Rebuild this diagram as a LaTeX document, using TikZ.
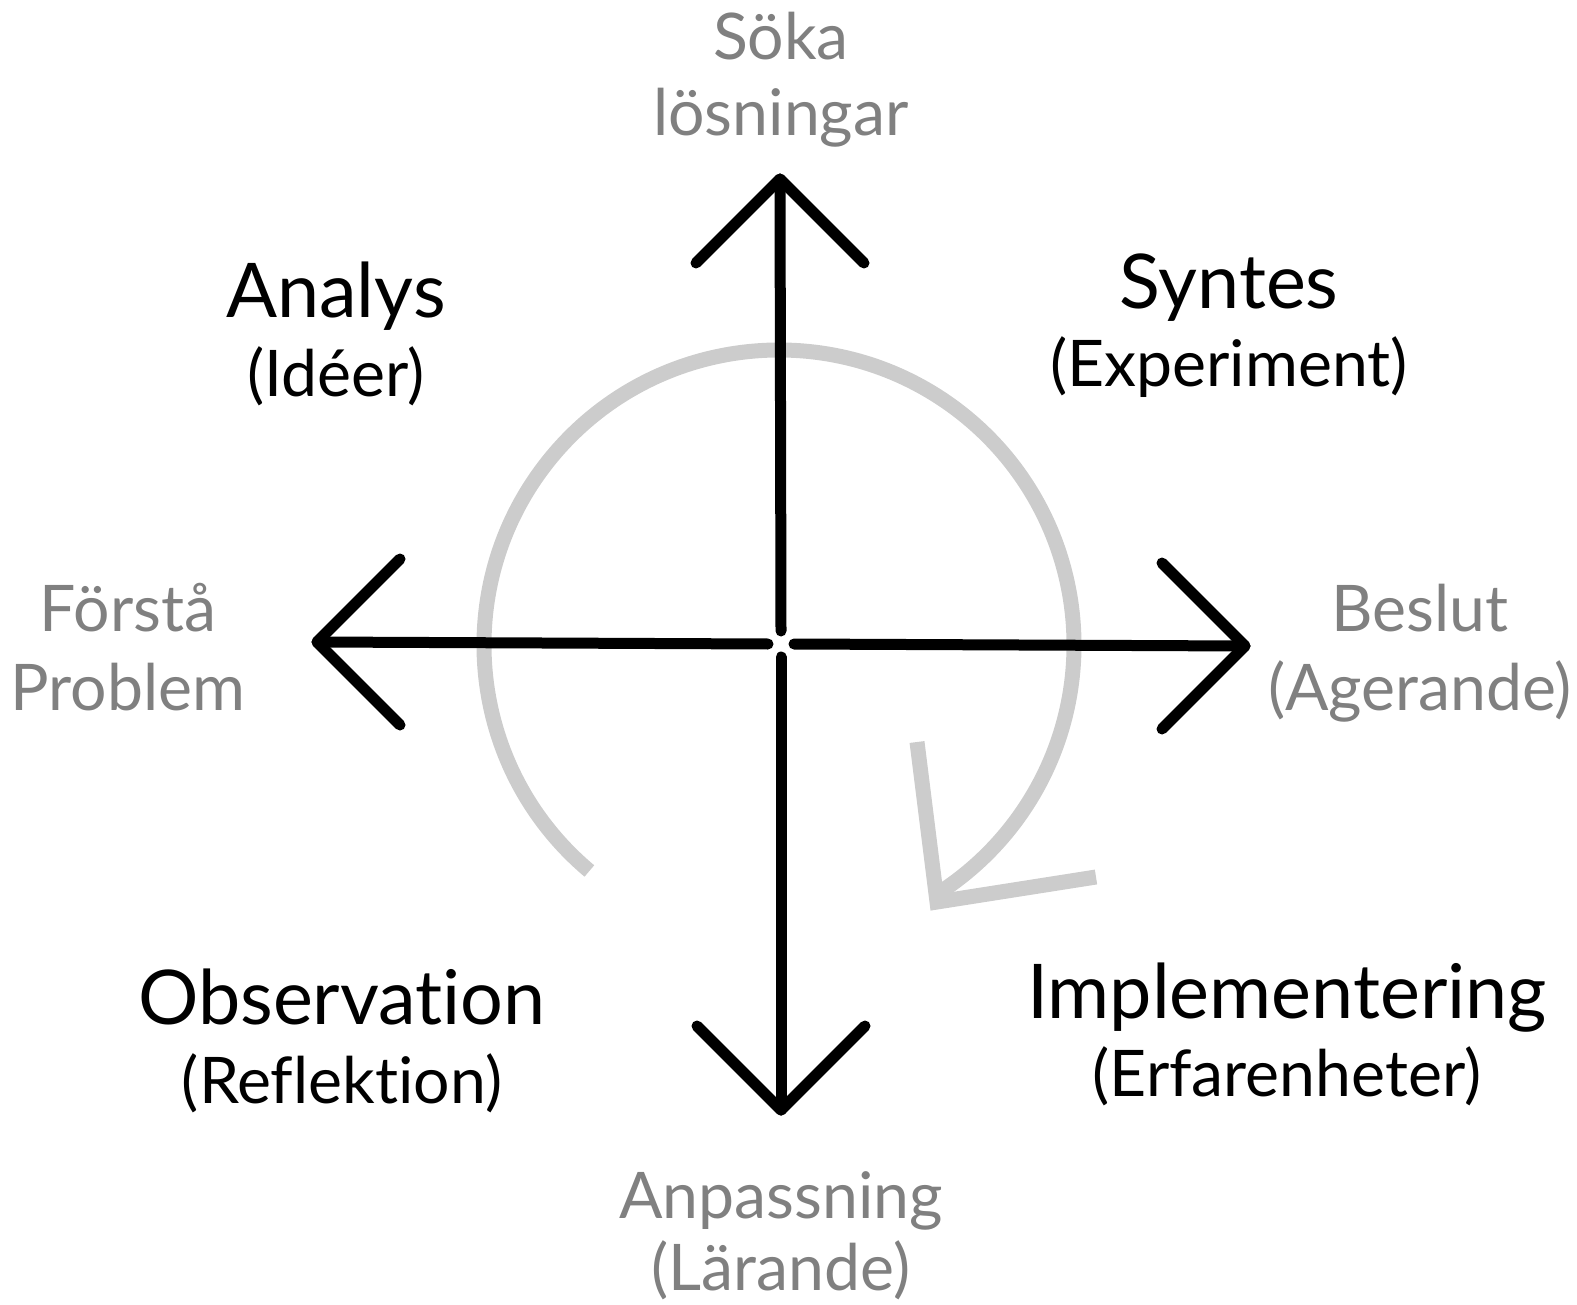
\documentclass[tikz,border=0pt]{standalone}
\usepackage{fontspec}
\setmainfont{Lato}[Ligatures=NoCommon]
\definecolor{labelgray}{HTML}{808080}
\definecolor{cyclegray}{HTML}{CCCCCC}
\tikzset{
  axis/.style={line width=11pt,line cap=round,line join=round,black},
  cycle/.style={line width=15pt,cyclegray},
  phase/.style={anchor=base,font=\fontsize{75.5}{80}\selectfont},
  phasesub/.style={anchor=base,font=\fontsize{64.3}{70}\selectfont},
  pole/.style={anchor=base,text=labelgray,font=\fontsize{64.3}{70}\selectfont}
}
\begin{document}
\begin{tikzpicture}[x=1pt,y=-1pt]
 \useasboundingbox (0,0) rectangle (1577,1305);
 \coordinate (c) at (781,644);
 \coordinate (n) at (780,179);
 \coordinate (s) at (781,1110);
 \coordinate (w) at (317,642);
 \coordinate (e) at (1245,646);
 \draw[cycle] (779,645) ++(-230:295) arc[start angle=-230,end angle=57,radius=295];
 \coordinate (tip) at (937,902);
 \draw[cycle,line join=miter] (917,742) -- (tip) -- (1096,877);
 \draw[axis] ([yshift=13pt]c) -- (n);
 \draw[axis] (n) ++(-84,84) -- (n) -- ++(84,84);
 \draw[axis] ([yshift=-13pt]c) -- (s);
 \draw[axis] (s) ++(-84,-84) -- (s) -- ++(84,-84);
 \draw[axis] ([xshift=-13pt]c) -- (w);
 \draw[axis] (w) ++(83,-83) -- (w) -- ++(83,83);
 \draw[axis] ([xshift=13pt]c) -- (e);
 \draw[axis] (e) ++(-83,-83) -- (e) -- ++(-83,83);
 \node[pole] (soka) at (781,60) {Söka};
 \node[pole] (losn) at (781,136) {lösningar};
 \node[pole] (forsta) at (128,631) {Förstå};
 \node[pole] (problem) at (128,710) {Problem};
 \node[pole] (beslut) at (1420,631) {Beslut};
 \node[pole] (agerande) at (1420,710) {(Agerande)};
 \node[pole] (anpassning) at (781,1218) {Anpassning};
 \node[pole] (larande) at (781,1290) {(Lärande)};
 \node[phase] (analys) at (336,318) {Analys};
 \node[phasesub] (ideer) at (336,397) {(Idéer)};
 \node[phase] (syntes) at (1229,309) {Syntes};
 \node[phasesub] (experiment) at (1229,387) {(Experiment)};
 \node[phase] (observation) at (342,1024) {Observation};
 \node[phasesub] (reflektion) at (342,1103) {(Reflektion)};
 \node[phase] (implementering) at (1287,1018) {Implementering};
 \node[phasesub] (erfarenheter) at (1287,1096) {(Erfarenheter)};
\end{tikzpicture}
\end{document}
